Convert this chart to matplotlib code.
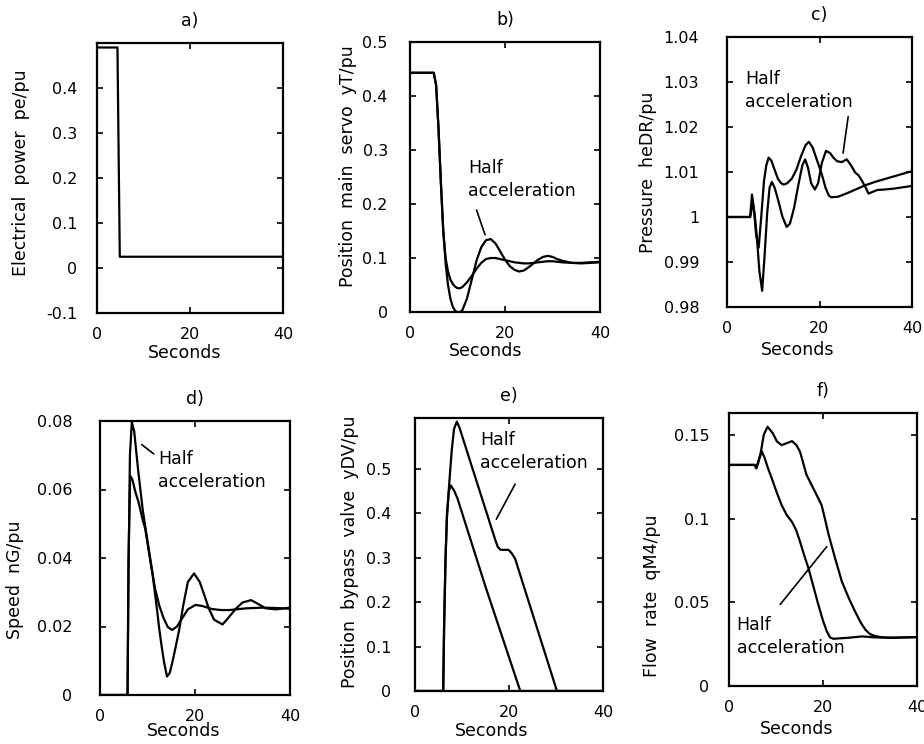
import matplotlib
matplotlib.use("Agg")
import matplotlib.pyplot as plt

plt.rcParams["font.family"] = ["DejaVu Sans"]

# a) electrical power
t_a = [0, 4.4, 4.9, 40]
pe_a = [0.49, 0.49, 0.025, 0.025]

# b) position main servo
t_b = [0, 5.0, 5.5, 6.0, 6.5, 7.0, 7.5, 8.0, 8.5, 9.0, 9.5, 10.0, 10.5, 11.0, 12.0,
       13.0, 14.0, 15.0, 16.0, 17.0, 18.0, 19.0, 20.0, 21.0, 22.0, 23.0, 24.0, 25.0,
       26.0, 27.0, 28.0, 29.0, 30.0, 31.0, 32.0, 34.0, 36.0, 38.0, 40.0]
yT_normal = [0.443, 0.443, 0.42, 0.34, 0.24, 0.15, 0.10, 0.075, 0.06, 0.052, 0.047,
             0.044, 0.044, 0.046, 0.055, 0.067, 0.08, 0.091, 0.098, 0.1, 0.1, 0.098,
             0.096, 0.094, 0.092, 0.091, 0.09, 0.09, 0.091, 0.092, 0.093, 0.094, 0.094,
             0.093, 0.092, 0.091, 0.091, 0.092, 0.093]
yT_half = [0.443, 0.443, 0.42, 0.34, 0.24, 0.15, 0.09, 0.05, 0.025, 0.01, 0.002,
           0.0, 0.0, 0.003, 0.025, 0.06, 0.095, 0.12, 0.133, 0.135, 0.127, 0.112,
           0.097, 0.085, 0.078, 0.075, 0.077, 0.083, 0.09, 0.097, 0.102, 0.104, 0.102,
           0.098, 0.095, 0.091, 0.09, 0.091, 0.092]

# c) pressure
t_c_normal = [0, 5.0, 5.4, 5.8, 6.3, 6.85, 7.4, 8.0, 8.5, 9.0, 9.6, 10.3, 11.0, 11.7,
              12.3, 13.0, 14.0, 15.0, 16.0, 17.0, 17.7, 18.5, 19.5, 20.5, 21.3, 22.0,
              22.5, 24.0, 26.0, 28.0, 30.0, 32.0, 34.0, 36.0, 38.0, 40.0]
he_normal = [1.0, 1.0, 1.005, 1.002, 0.996, 0.9932, 1.0, 1.008, 1.0115, 1.0132, 1.0125,
             1.0105, 1.0085, 1.0075, 1.0072, 1.0075, 1.0085, 1.0105, 1.0135, 1.016,
             1.0167, 1.0155, 1.0125, 1.0095, 1.0065, 1.0048, 1.0044, 1.0045, 1.0053,
             1.0062, 1.0071, 1.0078, 1.0084, 1.009, 1.0096, 1.0102]
t_c_half = [0, 5.0, 5.6, 6.0, 6.5, 7.0, 7.6, 8.1, 8.7, 9.2, 9.7, 10.3, 11.0, 12.0, 12.9,
            13.6, 14.5, 15.5, 16.3, 16.9, 17.5, 18.2, 19.0, 19.7, 20.5, 21.4, 22.3,
            23.0, 23.8, 24.8, 25.9, 26.8, 27.7, 28.5, 29.2, 30.0, 30.6, 31.5, 32.5,
            34.0, 36.0, 38.0, 40.0]
he_half = [1.0, 1.0, 1.003, 1.0005, 0.995, 0.988, 0.9836, 0.991, 1.001, 1.0065, 1.0078,
           1.0065, 1.004, 1.0, 0.9978, 0.9985, 1.002, 1.0075, 1.0115, 1.0128, 1.011,
           1.0075, 1.0061, 1.0075, 1.012, 1.0147, 1.0142, 1.0132, 1.0124, 1.0122,
           1.0128, 1.0115, 1.0099, 1.0092, 1.008, 1.0065, 1.0052, 1.0056, 1.006,
           1.0061, 1.0063, 1.0066, 1.0069]

# d) speed
t_d_normal = [0, 5.8, 6.0, 6.35, 6.8, 7.5, 8.1, 9.0, 9.5, 10.5, 11.6, 12.5, 13.4, 14.3,
              15.2, 16.2, 17.3, 18.5, 20.1, 21.5, 23.6, 25.5, 27.2, 30.7, 34.0, 37.0, 40.0]
nG_normal = [0, 0, 0.04, 0.064, 0.063, 0.059, 0.0564, 0.051, 0.0487, 0.040, 0.031,
             0.026, 0.0224, 0.0198, 0.019, 0.020, 0.0224, 0.025, 0.0263, 0.026, 0.0251,
             0.0248, 0.0248, 0.0253, 0.0255, 0.0254, 0.0252]
t_d_half = [0, 5.8, 6.0, 6.3, 6.7, 7.2, 8.0, 9.0, 10.0, 11.0, 12.0, 12.5, 13.0, 13.5,
            14.1, 14.7, 15.3, 16.0, 16.6, 17.5, 18.5, 19.8, 21.0, 22.0, 22.9, 24.0,
            25.8, 27.0, 28.6, 30.0, 31.8, 33.0, 34.9, 37.0, 40.0]
nG_half = [0, 0, 0.035, 0.07, 0.0796, 0.077, 0.066, 0.054, 0.045, 0.036, 0.025, 0.019,
           0.014, 0.0095, 0.0054, 0.0065, 0.010, 0.0145, 0.0185, 0.026, 0.033, 0.0355,
           0.033, 0.029, 0.0253, 0.022, 0.0206, 0.0225, 0.0252, 0.027, 0.0277, 0.0268,
           0.0253, 0.025, 0.0255]

# e) position bypass valve
t_e_normal = [0, 6.0, 6.2, 6.5, 6.8, 7.2, 7.6, 8.3, 9.0, 15.0, 22.4, 40]
yDV_normal = [0, 0, 0.15, 0.3, 0.4, 0.45, 0.463, 0.452, 0.435, 0.235, 0.0, 0.0]
t_e_half = [0, 6.0, 6.2, 6.5, 6.8, 7.3, 7.8, 8.3, 8.9, 9.5, 17.0, 17.6, 18.2, 19.9,
            20.6, 21.3, 30.2, 40]
yDV_half = [0, 0, 0.15, 0.3, 0.39, 0.47, 0.54, 0.59, 0.607, 0.592, 0.343, 0.325, 0.318,
            0.318, 0.31, 0.298, 0.0, 0.0]

# f) flow rate
t_f_normal = [0, 5.5, 5.8, 6.2, 7.0, 7.6, 8.3, 9.1, 10.1, 11.2, 12.3, 13.4, 14.3, 15.1,
              16.0, 16.9, 18.0, 19.0, 20.0, 20.8, 21.5, 22.2, 25.4, 28.3, 31.1, 35.0, 40.0]
qM4_normal = [0.132, 0.132, 0.130, 0.134, 0.140, 0.136, 0.130, 0.124, 0.116, 0.108,
              0.102, 0.098, 0.093, 0.0863, 0.078, 0.0704, 0.059, 0.0486, 0.039, 0.0327,
              0.029, 0.0282, 0.0288, 0.0296, 0.029, 0.0288, 0.0292]
t_f_half = [0, 5.5, 5.8, 6.2, 6.8, 7.4, 8.2, 9.3, 10.2, 11.2, 12.3, 13.4, 14.3, 15.1,
            15.8, 16.5, 17.4, 18.3, 19.0, 19.7, 20.4, 21.2, 22.6, 24.0, 25.4, 26.8, 28.0,
            29.0, 30.0, 31.1, 32.5, 34.0, 37.0, 40.0]
qM4_half = [0.132, 0.132, 0.130, 0.133, 0.140, 0.150, 0.1548, 0.151, 0.146, 0.1438,
            0.145, 0.1462, 0.144, 0.140, 0.133, 0.126, 0.121, 0.116, 0.112, 0.108, 0.100,
            0.0903, 0.076, 0.0625, 0.053, 0.0446, 0.038, 0.0337, 0.031, 0.0298, 0.0291,
            0.0288, 0.029, 0.0292]

W, H = 924, 744
fig = plt.figure(figsize=(W / 100, H / 100), dpi=100)


def make_axes(l, r, t, b):
    return fig.add_axes([l / W, 1 - b / H, (r - l) / W, (b - t) / H])


def style(ax, title, ylabel, ylim, yticks, ylabels, ypad, ylab_xy, xlab_xy):
    ax.set_xlim(0, 40)
    ax.set_ylim(*ylim)
    ax.set_xticks([0, 20, 40])
    ax.set_yticks(yticks)
    ax.set_yticklabels(ylabels)
    ax.tick_params(direction="in", length=4, width=1.2, top=True, right=True,
                   labelsize=11.5)
    ax.tick_params(axis="y", pad=ypad)
    ax.tick_params(axis="x", pad=10)
    for s in ax.spines.values():
        s.set_linewidth(1.6)
    ax.set_title(title, fontsize=12.5, pad=12)
    ax.set_ylabel(ylabel, fontsize=12.5)
    ax.yaxis.set_label_coords(*ylab_xy)
    ax.set_xlabel("Seconds", fontsize=12.5)
    ax.xaxis.set_label_coords(*xlab_xy)


lw = 1.6
ann = dict(arrowstyle="-", color="black", lw=1.2, shrinkA=0, shrinkB=0)

# a
ax = make_axes(97, 283, 43, 313)
ax.plot(t_a, pe_a, color="black", lw=lw)
style(ax, "a)", "Electrical  power  pe/pu", (-0.1, 0.5),
      [-0.1, 0, 0.1, 0.2, 0.3, 0.4], ["-0.1", "0", "0.1", "0.2", "0.3", "0.4"],
      14, (-0.36, 0.52), (0.47, -0.115))

# b
ax = make_axes(410, 600, 42, 312)
ax.plot(t_b, yT_normal, color="black", lw=lw)
ax.plot(t_b, yT_half, color="black", lw=lw)
style(ax, "b)", "Position  main  servo  yT/pu", (0, 0.5),
      [0, 0.1, 0.2, 0.3, 0.4, 0.5], ["0", "0.1", "0.2", "0.3", "0.4", "0.5"],
      16, (-0.28, 0.54), (0.4, -0.11))
ax.text(12.2, 0.283, "Half\nacceleration", ha="left", va="top", fontsize=12.5,
        linespacing=1.35)
ax.annotate("", xy=(15.8, 0.143), xytext=(14.0, 0.189), arrowprops=ann)

# c
ax = make_axes(727, 912, 37, 307)
ax.plot(t_c_normal, he_normal, color="black", lw=lw)
ax.plot(t_c_half, he_half, color="black", lw=lw)
style(ax, "c)", "Pressure  heDR/pu", (0.98, 1.04),
      [0.98, 0.99, 1.0, 1.01, 1.02, 1.03, 1.04],
      ["0.98", "0.99", "1", "1.01", "1.02", "1.03", "1.04"],
      20, (-0.38, 0.5), (0.38, -0.125))
ax.text(3.9, 1.0327, "Half\nacceleration", ha="left", va="top", fontsize=12.5,
        linespacing=1.35)
ax.annotate("", xy=(25.1, 1.0142), xytext=(26.2, 1.0223), arrowprops=ann)

# d
ax = make_axes(100, 290, 421, 695)
ax.plot(t_d_normal, nG_normal, color="black", lw=lw)
ax.plot(t_d_half, nG_half, color="black", lw=lw)
style(ax, "d)", "Speed  nG/pu", (0, 0.08),
      [0, 0.02, 0.04, 0.06, 0.08], ["0", "0.02", "0.04", "0.06", "0.08"],
      20, (-0.4, 0.42), (0.44, -0.1))
ax.text(12.2, 0.0715, "Half\nacceleration", ha="left", va="top", fontsize=12.5,
        linespacing=1.35)
ax.annotate("", xy=(11.3, 0.0704), xytext=(8.8, 0.0731), arrowprops=ann)

# e
ax = make_axes(415, 603, 418, 691)
ax.plot(t_e_normal, yDV_normal, color="black", lw=lw)
ax.plot(t_e_half, yDV_half, color="black", lw=lw)
style(ax, "e)", "Position  bypass  valve  yDV/pu", (0, 0.615),
      [0, 0.1, 0.2, 0.3, 0.4, 0.5], ["0", "0.1", "0.2", "0.3", "0.4", "0.5"],
      17, (-0.3, 0.51), (0.41, -0.115))
ax.text(13.9, 0.585, "Half\nacceleration", ha="left", va="top", fontsize=12.5,
        linespacing=1.35)
ax.annotate("", xy=(17.3, 0.387), xytext=(21.3, 0.466), arrowprops=ann)

# f
ax = make_axes(729, 917, 413, 686)
ax.plot(t_f_normal, qM4_normal, color="black", lw=lw)
ax.plot(t_f_half, qM4_half, color="black", lw=lw)
style(ax, "f)", "Flow  rate  qM4/pu", (0, 0.163),
      [0, 0.05, 0.1, 0.15], ["0", "0.05", "0.1", "0.15"],
      14, (-0.36, 0.33), (0.36, -0.125))
ax.text(1.6, 0.042, "Half\nacceleration", ha="left", va="top", fontsize=12.5,
        linespacing=1.35)
ax.annotate("", xy=(20.8, 0.0832), xytext=(10.9, 0.0487), arrowprops=ann)

fig.savefig("out.png", dpi=100)
